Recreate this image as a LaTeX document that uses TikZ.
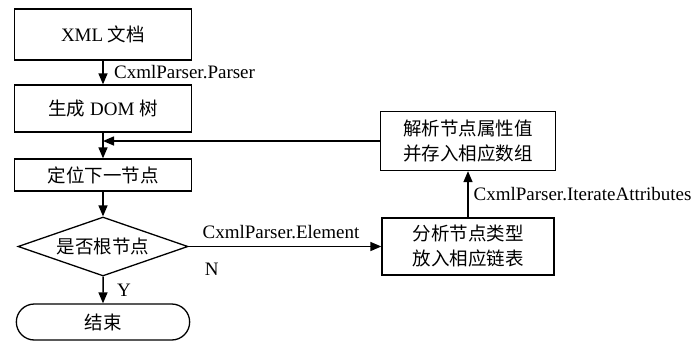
\documentclass[tikz,border=0pt]{standalone}
\usepackage{fontspec}
\setmainfont{Liberation Serif}
\newfontfamily\cjk{Noto Sans CJK SC}
\usetikzlibrary{positioning, shapes.geometric, shapes.misc, arrows.meta}
\newcommand{\zh}[1]{{\cjk\fontsize{18.5}{25}\selectfont #1}}

\begin{document}
\begin{tikzpicture}[on grid, font=\fontsize{19}{25}\selectfont,
    box/.style={draw, line width=1.3pt, minimum width=177pt, inner sep=2pt, align=center},
    arr/.style={-{Triangle[length=11pt,width=9pt]}, line width=1.5pt}]
  \useasboundingbox (0,0) rectangle (696pt,-341pt);
  \node[box, minimum height=51pt] (xml) at (103pt,-34.5pt) {XML \zh{文档}};
  \node[box, minimum height=47pt] (dom) [below=74pt of xml] {\zh{生成} DOM \zh{树}};
  \node[box, minimum height=32pt] (locate) [below=66.5pt of dom] {\zh{定位下一节点}};
  \node[draw, diamond, line width=1.3pt, inner sep=0pt, aspect=2.85,
        minimum width=170pt, minimum height=59pt] (root) [below=71.5pt of locate] {\zh{是否根节点}};
  \node[draw, rounded rectangle, line width=1.3pt, minimum width=180pt,
        minimum height=36pt] (end) [below=75.5pt of root] {\zh{结束}};
  \node[box, minimum width=172pt, minimum height=57pt] (analyze) [right=365pt of root]
        {\zh{分析节点类型}\\\zh{放入相应链表}};
  \node[box, minimum width=175pt, minimum height=59pt] (attr) [above=105.5pt of analyze]
        {\zh{解析节点属性值}\\\zh{并存入相应数组}};
  \coordinate (back) at (dom.south |- attr.west);
  \draw[arr] (xml) -- node[right=7pt] {CxmlParser.Parser} (dom);
  \draw[arr] (dom) -- (locate);
  \draw[arr] (locate) -- (root);
  \draw[arr] (root) -- node[right=10pt] {Y} (end);
  \draw[arr] (root) -- node[above=4pt, xshift=-4pt] {CxmlParser.Element}
                       node[pos=0.12, below=12pt] {N} (analyze);
  \draw[arr] (analyze) -- node[right=1.5pt] {CxmlParser.IterateAttributes} (attr);
  \draw[arr] (attr.west) -- (back);
\end{tikzpicture}
\end{document}
